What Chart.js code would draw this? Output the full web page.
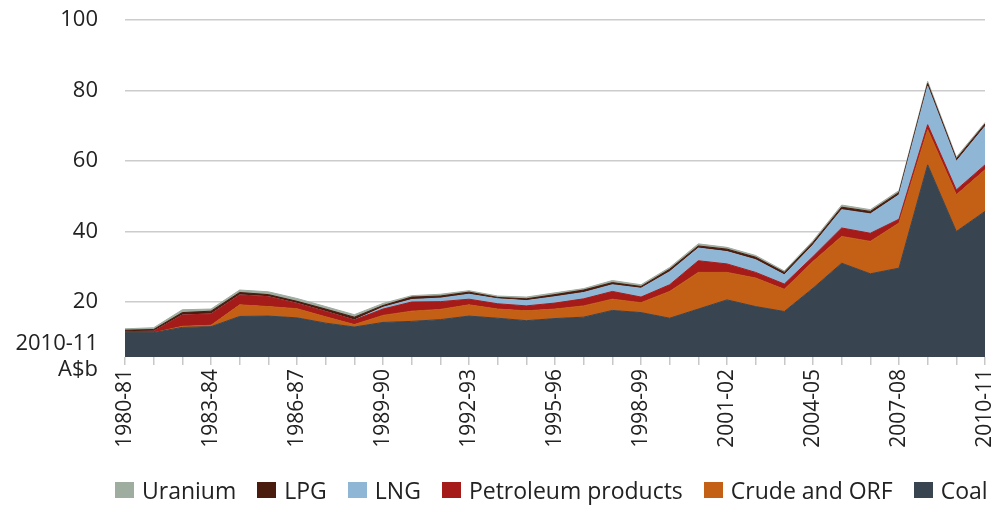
<!DOCTYPE html>
<html>
<head>
<meta charset="utf-8">
<script src="https://cdn.jsdelivr.net/npm/chart.js@4/dist/chart.umd.min.js"></script>
<style>
  html, body { margin: 0; padding: 0; background: #fff; }
  #wrap { position: relative; width: 999px; height: 508px; }
  #legend {
    position: absolute; left: 115px; top: 477px;
    display: flex; align-items: center; gap: 21px;
    font-family: "Open Sans", sans-serif; font-size: 23px; line-height: 26px; color: #222;
    white-space: nowrap;
  }
  #legend .item { display: flex; align-items: center; }
  #legend .box { width: 19px; height: 16px; margin-right: 8px; }
</style>
</head>
<body>
<div id="wrap">
  <canvas id="exportChart" width="999" height="508"></canvas>
  <div id="legend"></div>
</div>
<script>
// financial years on the x axis
const years = ["1980-81", "1981-82", "1982-83", "1983-84", "1984-85", "1985-86", "1986-87", "1987-88",
    "1988-89", "1989-90", "1990-91", "1991-92", "1992-93", "1993-94", "1994-95", "1995-96", "1996-97",
    "1997-98", "1998-99", "1999-00", "2000-01", "2001-02", "2002-03", "2003-04", "2004-05", "2005-06",
    "2006-07", "2007-08", "2008-09", "2009-10", "2010-11"];

// export values, 2010-11 A$b
const coal = [11.3, 11.3, 12.8, 13.0, 15.9, 16.0, 15.5, 14.0, 12.9, 14.2, 14.5, 15.0, 16.0, 15.4, 14.7, 15.3,
    15.7, 17.6, 17.0, 15.4, 18.0, 20.6, 18.7, 17.3, 23.9, 31.0, 28.0, 29.6, 58.9, 40.0, 45.7];
const crude = [0, 0, 0.3, 0.4, 3.3, 2.7, 2.6, 1.8, 0.7, 2.0, 2.9, 2.9, 3.2, 2.6, 2.8, 2.7,
    3.2, 3.2, 2.8, 7.6, 10.4, 7.8, 8.1, 6.3, 7.6, 7.6, 9.2, 12.8, 10.0, 10.4, 11.8];
const petroleum = [0.3, 0.4, 3.2, 3.2, 2.8, 2.8, 1.5, 1.5, 1.3, 1.8, 2.6, 2.2, 1.6, 1.5, 1.4, 1.7,
    2.0, 2.2, 1.6, 1.9, 3.3, 2.4, 1.6, 1.5, 1.4, 2.4, 2.3, 1.1, 1.4, 1.4, 1.4];
const lng = [0, 0, 0, 0, 0, 0, 0, 0, 0, 0.5, 0.7, 1.0, 1.4, 1.4, 1.5, 1.8,
    1.8, 1.9, 2.5, 3.7, 3.6, 3.5, 3.6, 2.6, 3.3, 5.2, 5.5, 6.9, 10.9, 8.1, 10.9];
const lpg = [0.4, 0.5, 0.7, 0.8, 0.7, 0.6, 0.6, 0.7, 0.8, 0.5, 0.7, 0.6, 0.6, 0.4, 0.5, 0.6,
    0.7, 0.6, 0.5, 0.7, 0.6, 0.7, 0.7, 0.7, 0.7, 0.7, 0.7, 0.7, 0.8, 0.7, 0.7];
const uranium = [0.4, 0.5, 0.8, 0.6, 0.7, 0.8, 0.8, 0.7, 0.7, 0.6, 0.4, 0.5, 0.4, 0.4, 0.5, 0.5,
    0.4, 0.6, 0.5, 0.5, 0.6, 0.5, 0.5, 0.4, 0.5, 0.6, 0.5, 0.5, 0.6, 0.5, 0.4];

const yTicks = [20, 40, 60, 80, 100];
const yMin = 4.4;
const unitLabel = ["2010-11", "A$b"];

const font = "'Open Sans', sans-serif";

function area(label, data, color, fill) {
    return {
        label: label,
        data: data,
        backgroundColor: color,
        borderColor: color,
        borderWidth: 1,
        pointRadius: 0,
        tension: 0,
        fill: fill
    };
}

const ctx = document.getElementById("exportChart").getContext("2d");
const chart = new Chart(ctx, {
    type: "line",
    data: {
        labels: years,
        datasets: [
            area("Coal", coal, "#38444f", "start"),
            area("Crude and ORF", crude, "#c45f16", "-1"),
            area("Petroleum products", petroleum, "#a51b1a", "-1"),
            area("LNG", lng, "#90b6d6", "-1"),
            area("LPG", lpg, "#4a1c0d", "-1"),
            area("Uranium", uranium, "#9fada1", "-1")
        ]
    },
    options: {
        responsive: false,
        animation: false,
        devicePixelRatio: 1,
        layout: { padding: { top: 20, right: 14, bottom: 0, left: 0 } },
        plugins: {
            tooltip: { enabled: false },
            legend: { display: false }
        },
        scales: {
            x: {
                border: { display: false },
                afterFit: function (scale) {
                    scale.height = 151;
                    scale.paddingLeft = 0;
                    scale.paddingRight = 0;
                },
                grid: { drawOnChartArea: false, drawTicks: true, tickLength: 8, color: "#c8c8c8", lineWidth: 1.5 },
                ticks: {
                    autoSkip: false,
                    maxRotation: 90,
                    minRotation: 90,
                    padding: 4,
                    color: "#222",
                    font: { family: font, size: 21 },
                    callback: function (value, index) {
                        return index % 3 === 0 ? years[index] : "";
                    }
                }
            },
            y: {
                stacked: true,
                min: yMin,
                max: 100,
                border: { display: false },
                afterBuildTicks: function (scale) {
                    scale.ticks = [yMin].concat(yTicks).map(v => ({ value: v }));
                },
                afterFit: function (scale) {
                    scale.width = 125;
                    scale.paddingTop = 0;
                    scale.paddingBottom = 0;
                },
                grid: {
                    drawTicks: false,
                    lineWidth: 1.5,
                    color: function (c) {
                        return c.tick && c.tick.value > yMin ? "#cccccc" : "rgba(0,0,0,0)";
                    }
                },
                ticks: {
                    padding: 27,
                    color: "#222",
                    font: { family: font, size: 22 },
                    callback: function (value) {
                        return value === yMin ? unitLabel : value;
                    }
                }
            }
        }
    }
});

// legend, top of the stack first
const legendEl = document.getElementById("legend");
chart.data.datasets.slice().reverse().forEach(ds => {
    const item = document.createElement("span");
    item.className = "item";
    item.innerHTML = `<span class="box" style="background:${ds.backgroundColor}"></span>${ds.label}`;
    legendEl.appendChild(item);
});
</script>
</body>
</html>
